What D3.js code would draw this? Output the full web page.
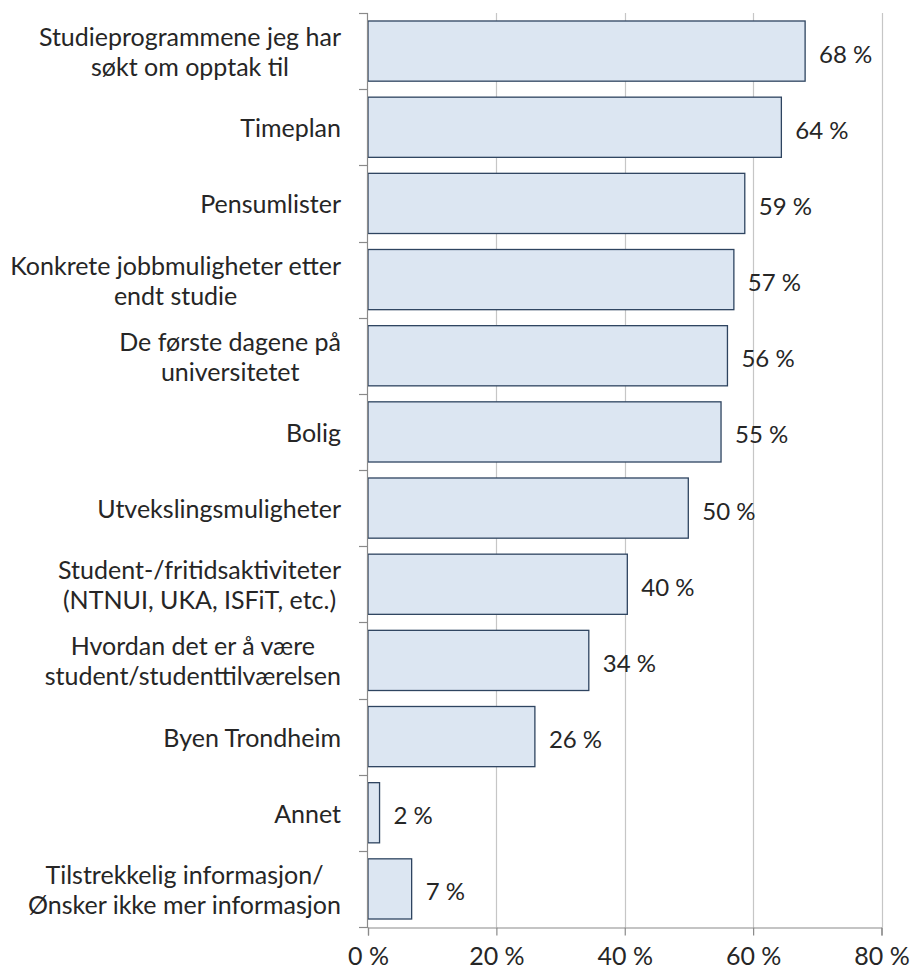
<!DOCTYPE html>
<html>
<head>
<meta charset="utf-8">
<script src="https://cdn.jsdelivr.net/npm/d3@7"></script>
<style>
  body { margin: 0; background: #fff; }
  svg text { font-family: Lato, "Noto Sans", sans-serif; fill: #262626; }
</style>
</head>
<body>
<div id="chart"></div>
<script>
const margin = ({top: 13, right: 28, bottom: 46, left: 368});
const width = 910, height = 973;

// categories, top to bottom (line breaks as in the original)
const categories = [
  "Studieprogrammene jeg har\nsøkt om opptak til",
  "Timeplan",
  "Pensumlister",
  "Konkrete jobbmuligheter etter\nendt studie",
  "De første dagene på\nuniversitetet",
  "Bolig",
  "Utvekslingsmuligheter",
  "Student-/fritidsaktiviteter\n(NTNUI, UKA, ISFiT, etc.)",
  "Hvordan det er å være\nstudent/studenttilværelsen",
  "Byen Trondheim",
  "Annet",
  "Tilstrekkelig informasjon/\nØnsker ikke mer informasjon"
];
const values = [68.1, 64.4, 58.7, 57.0, 56.0, 55.0, 49.9, 40.4, 34.4, 26.0, 1.8, 6.8];
const xTicks = [0, 20, 40, 60, 80];

const data = categories.map((c, i) => ({name: c, value: values[i]}));

var svg = d3.select("#chart").append("svg")
  .attr("width", width)
  .attr("height", height);

var x = d3.scaleLinear()
  .domain([0, 80])
  .range([margin.left, width - margin.right - 0.5]);

var y = d3.scaleBand()
  .domain(categories)
  .range([margin.top, height - margin.bottom])
  .paddingInner(0.21)
  .paddingOuter(0.105);

var yTop = margin.top, yBot = height - margin.bottom;

// gridlines
svg.append("g")
  .selectAll("line")
  .data(xTicks.slice(1))
  .enter().append("line")
    .attr("x1", d => Math.round(x(d)) + 0.5)
    .attr("x2", d => Math.round(x(d)) + 0.5)
    .attr("y1", yTop)
    .attr("y2", yBot)
    .attr("stroke", "#c6c6c6")
    .attr("stroke-width", 1.2);

// bars
svg.append("g")
  .selectAll("rect")
  .data(data)
  .enter().append("rect")
    .attr("x", x(0))
    .attr("y", d => y(d.name))
    .attr("width", d => x(d.value) - x(0))
    .attr("height", y.bandwidth())
    .attr("fill", "#dce6f2")
    .attr("stroke", "#2e4460")
    .attr("stroke-width", 1.3);

// value labels
svg.append("g")
  .selectAll("text")
  .data(data)
  .enter().append("text")
    .attr("x", d => x(d.value) + 14)
    .attr("y", d => y(d.name) + y.bandwidth() / 2 + 2)
    .attr("dominant-baseline", "central")
    .style("font-size", "24px")
    .text(d => Math.round(d.value) + " %");

// bottom axis
var xAxis = d3.axisBottom(x)
  .tickValues(xTicks)
  .tickSize(8)
  .tickPadding(12)
  .tickFormat(d => d + " %");

var gx = svg.append("g")
  .attr("transform", "translate(0," + (yBot + 0.5) + ")")
  .call(xAxis);
gx.select(".domain").attr("stroke", "#8a8a8a").attr("stroke-width", 1.2);
gx.selectAll(".tick line").attr("stroke", "#8a8a8a").attr("stroke-width", 1.2);
gx.selectAll("text").style("font-size", "25px").attr("fill", "#262626");

// left axis (line with ticks at band boundaries)
var step = y.step();
var boundaries = d3.range(categories.length + 1).map(i => yTop + i * step);

svg.append("line")
  .attr("x1", x(0) - 0.5).attr("x2", x(0) - 0.5)
  .attr("y1", yTop).attr("y2", yBot)
  .attr("stroke", "#8a8a8a")
  .attr("stroke-width", 1.2);

svg.append("g")
  .selectAll("line")
  .data(boundaries)
  .enter().append("line")
    .attr("x1", x(0) - 9).attr("x2", x(0))
    .attr("y1", d => Math.round(d) + 0.5)
    .attr("y2", d => Math.round(d) + 0.5)
    .attr("stroke", "#8a8a8a")
    .attr("stroke-width", 1.2);

// category labels: block right-aligned, lines centred within block
var labelRight = 341, lineH = 30;
var labels = svg.append("g")
  .selectAll("text")
  .data(data)
  .enter().append("text")
    .style("font-size", "25px")
    .attr("text-anchor", "middle");

labels.each(function(d) {
  var t = d3.select(this);
  var lines = d.name.split("\n");
  var cy = y(d.name) + y.bandwidth() / 2;
  lines.forEach((l, i) => {
    t.append("tspan")
      .attr("y", cy + (i - (lines.length - 1) / 2) * lineH)
      .attr("dominant-baseline", "central")
      .text(l);
  });
  var maxW = d3.max(t.selectAll("tspan").nodes(), n => n.getComputedTextLength());
  t.selectAll("tspan").attr("x", labelRight - maxW / 2);
});
</script>
</body>
</html>
